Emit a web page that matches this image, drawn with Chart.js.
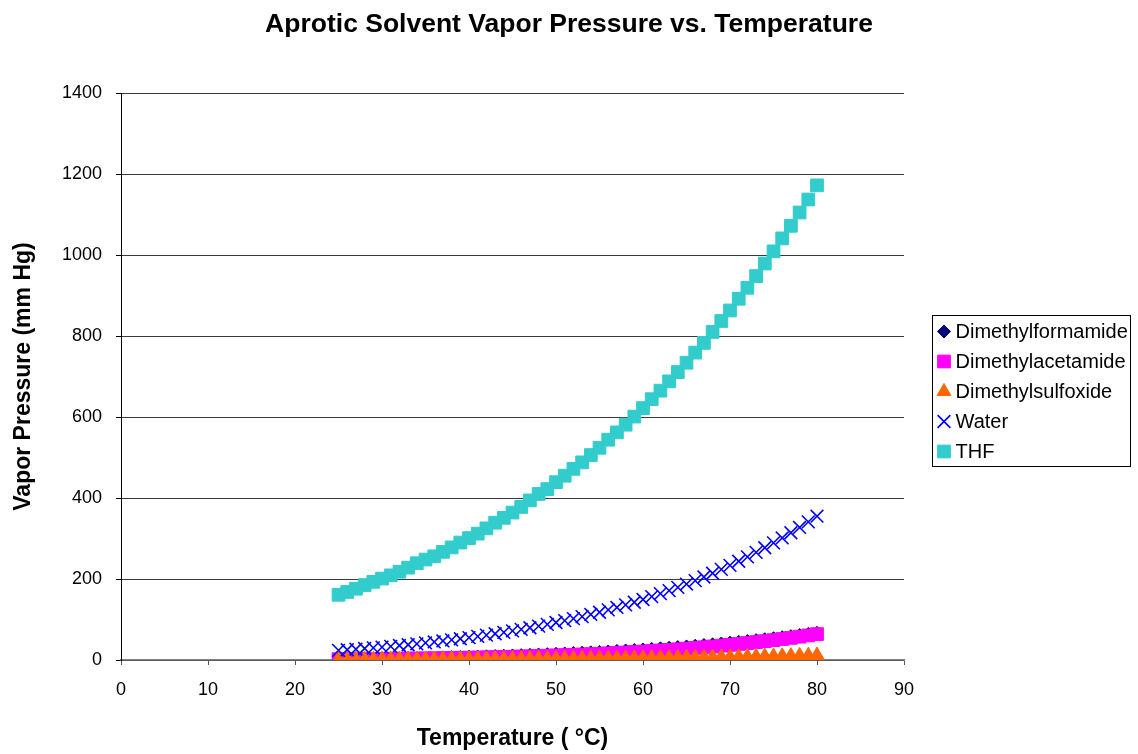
<!DOCTYPE html>
<html>
<head>
<meta charset="utf-8">
<title>Aprotic Solvent Vapor Pressure vs. Temperature</title>
<script src="https://cdn.jsdelivr.net/npm/chart.js@4/dist/chart.umd.min.js"></script>
<style>
  html, body { margin: 0; padding: 0; background: #ffffff; }
  #wrap { width: 1138px; height: 754px; position: relative; }
</style>
</head>
<body>
<div id="wrap"><canvas id="chart" width="1138" height="754"></canvas></div>
<script>
// Temperature (°C)
const temperatures = [25,26,27,28,29,30,31,32,33,34,35,36,37,38,39,40,41,42,43,44,45,46,47,48,49,50,51,52,53,54,55,56,57,58,59,60,61,62,63,64,65,66,67,68,69,70,71,72,73,74,75,76,77,78,79,80];

// Vapor pressure (mm Hg) for each solvent
const dimethylformamide = [3.7,3.9,4.2,4.5,4.8,5.1,5.4,5.8,6.1,6.5,6.9,7.4,7.8,8.3,8.8,9.4,9.9,10.5,11.1,11.8,12.5,13.2,14.0,14.8,15.6,16.5,17.4,18.3,19.2,20.2,21.2,22.3,23.5,24.7,25.9,27.2,28.6,30.0,31.5,33.1,34.7,36.4,38.2,40.0,41.9,43.9,46.0,48.1,50.3,52.6,55.0,57.5,60.1,62.8,65.6,68.4];
const dimethylacetamide = [2.0,2.2,2.3,2.5,2.7,2.9,3.1,3.3,3.6,3.8,4.1,4.4,4.7,5.0,5.4,5.8,6.2,6.6,7.1,7.6,8.1,8.6,9.2,9.9,10.6,11.3,12.0,12.8,13.6,14.5,15.4,16.4,17.4,18.5,19.7,20.9,22.2,23.5,25.0,26.5,28.1,29.8,31.5,33.4,35.4,37.4,39.6,41.9,44.2,46.6,49.1,51.8,54.6,57.6,60.7,64.0];
const dimethylsulfoxide = [0.6,0.64,0.68,0.72,0.77,0.82,0.87,0.92,0.98,1.04,1.10,1.17,1.24,1.31,1.39,1.47,1.56,1.65,1.75,1.85,1.95,2.06,2.18,2.30,2.43,2.56,2.70,2.85,3.00,3.16,3.33,3.51,3.69,3.88,4.08,4.29,4.51,4.74,4.98,5.23,5.49,5.76,6.04,6.33,6.64,6.96,7.29,7.63,7.99,8.36,8.74,9.14,9.55,9.98,10.42,10.88];
const water = [23.8,25.2,26.7,28.3,30.0,31.8,33.7,35.7,37.7,39.9,42.2,44.6,47.1,49.7,52.4,55.3,58.3,61.5,64.8,68.3,71.9,75.7,79.6,83.7,88.0,92.5,97.2,102.1,107.2,112.5,118.0,123.8,129.8,136.1,142.6,149.4,156.4,163.8,171.4,179.3,187.5,196.1,205.0,214.2,223.7,233.7,243.9,254.6,265.7,277.2,289.1,301.4,314.1,327.3,341.0,355.1];
const thf = [161,168,176,185,193,201,209,218,228,239,248,256,267,278,290,301,312,325,339,351,364,378,394,410,422,439,455,472,488,506,524,544,562,581,601,622,644,665,688,711,734,759,783,810,837,863,892,919,948,979,1009,1041,1072,1105,1137,1172];

// Axis ticks
const xTicks = [0,10,20,30,40,50,60,70,80,90];
const yTicks = [0,200,400,600,800,1000,1200,1400];

const FONT = "'Liberation Sans', Arial, Helvetica, sans-serif";

function toPoints(values) {
  return temperatures.map((t, i) => ({ x: t, y: values[i] }));
}

const series = [
  { label: 'Dimethylformamide', values: dimethylformamide, color: '#000080', style: 'rectRot', radius: 6, legendRadius: 6.5, width: 1, order: 5 },
  { label: 'Dimethylacetamide', values: dimethylacetamide, color: '#FF00FF', style: 'rect', radius: 9, legendRadius: 9, width: 1, order: 4 },
  { label: 'Dimethylsulfoxide', values: dimethylsulfoxide, color: '#FF6600', style: 'triangle', radius: 8.5, legendRadius: 8, width: 1, order: 3 },
  { label: 'Water', values: water, color: '#0000FF', style: 'crossRot', radius: 9, legendRadius: 9, width: 1.6, order: 2 },
  { label: 'THF', values: thf, color: '#33CCCC', style: 'rect', radius: 9, legendRadius: 9, width: 1, order: 1 }
];

// Boxed legend drawn to the right of the plot
const boxedLegend = {
  id: 'boxedLegend',
  afterDraw(chart) {
    const ctx = chart.ctx;
    const box = { left: 932.5, top: 315.5, right: 1130.5, bottom: 466.5 };
    ctx.save();
    ctx.strokeStyle = '#000000';
    ctx.lineWidth = 1;
    ctx.strokeRect(box.left, box.top, box.right - box.left, box.bottom - box.top);
    ctx.font = '20px ' + FONT;
    ctx.textBaseline = 'middle';
    ctx.textAlign = 'left';
    chart.data.datasets.forEach((ds, i) => {
      const y = 331.5 + i * 30;
      ctx.save();
      ctx.fillStyle = ds.backgroundColor;
      ctx.strokeStyle = ds.borderColor;
      ctx.lineWidth = ds.borderWidth;
      Chart.helpers.drawPoint(ctx, { pointStyle: ds.pointStyle, radius: series[i].legendRadius, borderWidth: ds.borderWidth, rotation: 0 }, 944, y);
      ctx.restore();
      ctx.fillStyle = '#000000';
      ctx.fillText(ds.label, 955.5, y + 1);
    });
    ctx.restore();
  }
};

new Chart(document.getElementById('chart'), {
  type: 'scatter',
  data: {
    datasets: series.map(s => ({
      label: s.label,
      data: toPoints(s.values),
      showLine: false,
      pointStyle: s.style,
      pointRadius: s.radius,
      pointHoverRadius: s.radius,
      backgroundColor: s.color,
      borderColor: s.color,
      borderWidth: s.width,
      order: s.order
    }))
  },
  options: {
    responsive: false,
    animation: false,
    events: [],
    layout: { padding: 0 },
    plugins: {
      legend: { display: false },
      tooltip: { enabled: false },
      title: {
        display: true,
        text: 'Aprotic Solvent Vapor Pressure vs. Temperature',
        color: '#000000',
        font: { family: FONT, size: 26.5, weight: 'bold' },
        padding: { top: 9, bottom: 52.2 }
      }
    },
    scales: {
      x: {
        type: 'linear',
        min: 0,
        max: 90,
        afterBuildTicks(scale) { scale.ticks = xTicks.map(v => ({ value: v })); },
        grid: { drawOnChartArea: false, drawTicks: true, tickLength: 5, tickColor: '#555555' },
        border: { display: true, color: '#808080', width: 1.5 },
        ticks: { color: '#000000', padding: 14, maxRotation: 0, font: { family: FONT, size: 18 }, callback: v => String(v) },
        title: {
          display: true,
          text: 'Temperature ( °C)',
          color: '#000000',
          font: { family: FONT, size: 23, weight: 'bold' },
          padding: { top: 10.6, bottom: 1.2 }
        }
      },
      y: {
        type: 'linear',
        min: 0,
        max: 1400,
        afterBuildTicks(scale) { scale.ticks = yTicks.map(v => ({ value: v })); },
        grid: { color: '#3a3a3a', lineWidth: 1, drawTicks: true, tickLength: 5, tickColor: '#000000' },
        border: { display: true, color: '#000000', width: 1 },
        ticks: { color: '#000000', padding: 14, font: { family: FONT, size: 18 }, callback: v => String(v) },
        title: {
          display: true,
          text: 'Vapor Pressure (mm Hg)',
          color: '#000000',
          font: { family: FONT, size: 23, weight: 'bold' },
          padding: { top: 10, bottom: 10.4 }
        }
      },
      // Empty right-hand axis that reserves room for the legend box
      legendSpace: {
        type: 'linear',
        position: 'right',
        display: true,
        grid: { display: false, drawTicks: false },
        border: { display: false },
        ticks: { display: false },
        afterFit(scale) { scale.width = 234; }
      }
    }
  },
  plugins: [boxedLegend]
});
</script>
</body>
</html>
